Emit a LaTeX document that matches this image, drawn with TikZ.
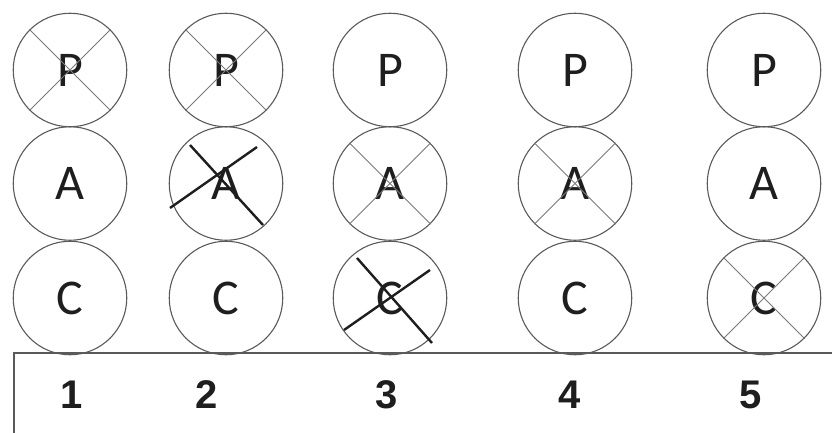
\documentclass[tikz,border=0pt]{standalone}
\usepackage{fontspec}
\setmainfont{Carlito}
\newfontfamily\numfont{Liberation Sans}
\definecolor{ring}{HTML}{5A5A5A}
\definecolor{thinx}{HTML}{7A7A7A}
\definecolor{ink}{HTML}{1E1E1E}
\begin{document}
\begin{tikzpicture}[x=1pt,y=-1pt,
  disc/.style={circle,draw=ring,line width=1.1pt,minimum size=113.5pt,inner sep=0pt,
    font=\fontsize{50}{50}\selectfont,text=ink},
  lightx/.style={draw=thinx,line width=0.8pt},
  boldx/.style={draw=ink,line width=2.4pt},
  num/.style={font=\numfont\bfseries\fontsize{40}{40}\selectfont,text=ink,inner sep=0pt},
  strip/.style={draw=ring,line width=1.4pt}]
\useasboundingbox (0,0) rectangle (832,432);
\clip (0,0) rectangle (832,432);
% strip at the bottom
\draw[strip] (14,460) coordinate (sl) -- (14,353) coordinate (stl) -- (860,353) coordinate (str);
% circles
\foreach \c/\x in {1/70,2/226,3/390,4/575,5/764}{
  \node[disc] (p\c) at (\x,70) {P};
  \node[disc] (a\c) at (\x,183.5) {A};
  \node[disc] (c\c) at (\x,298) {C};
}
% light crosses
\foreach \n in {p1,p2,a3,a4,c5}{
  \draw[lightx] (\n.north west) -- (\n.south east);
  \draw[lightx] (\n.south west) -- (\n.north east);
}
% bold crosses
\draw[boldx] ([shift={(-36,-38.5)}]a2.center) -- ([shift={(37,41.5)}]a2.center);
\draw[boldx] ([shift={(-56,24.5)}]a2.center) -- ([shift={(31,-36.5)}]a2.center);
\draw[boldx] ([shift={(-33,-40)}]c3.center) -- ([shift={(42,45)}]c3.center);
\draw[boldx] ([shift={(-46,32)}]c3.center) -- ([shift={(40,-28)}]c3.center);
% numbers
\node[num] (n1) at (72,395) {1};
\node[num] (n2) at (207,395) {2};
\node[num] (n3) at (387,395) {3};
\node[num] (n4) at (570,395) {4};
\node[num] (n5) at (751,395) {5};
\end{tikzpicture}
\end{document}
